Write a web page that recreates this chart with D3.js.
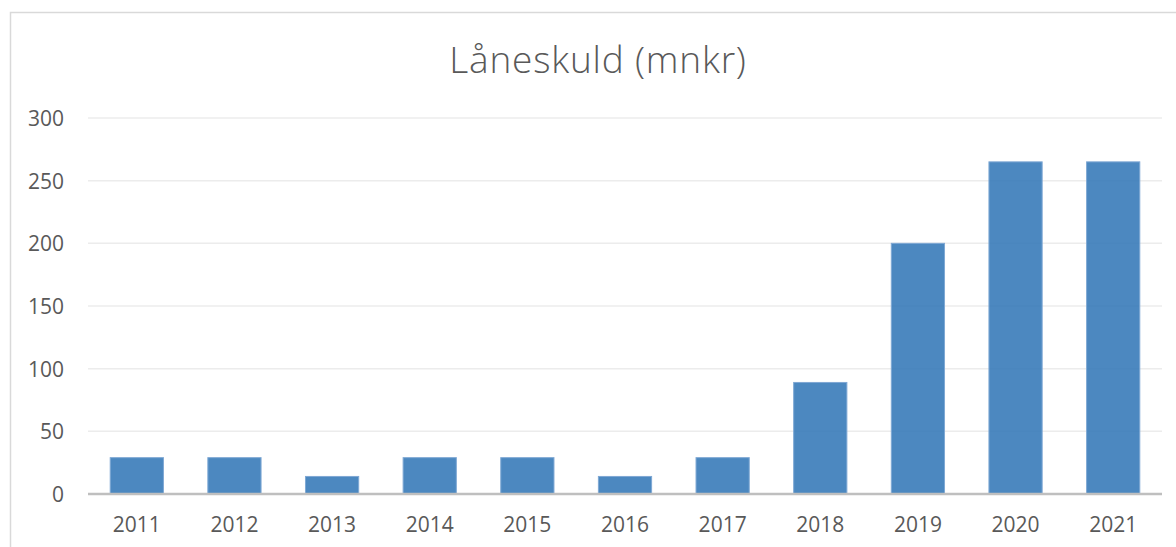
<!DOCTYPE html>
<html>
<head>
<meta charset="utf-8">
<script src="https://cdn.jsdelivr.net/npm/d3@7"></script>
<style>
html,body{margin:0;padding:0;background:#fff;}
svg{display:block;}
</style>
</head>
<body>
<svg id="chart" width="1176" height="547"></svg>
<script>
const title = "Låneskuld (mnkr)";
const years = ["2011","2012","2013","2014","2015","2016","2017","2018","2019","2020","2021"];
const values = [29, 29, 14, 29, 29, 14, 29, 89, 200, 265, 265];
const yTicks = [0, 50, 100, 150, 200, 250, 300];

const svg = d3.select("#chart");
const m = {left: 88, right: 1162, top: 118, bottom: 494};

// outer chart border
svg.append("rect").attr("x", 10.5).attr("y", 12.5).attr("width", 1200).attr("height", 600)
  .attr("fill", "none").attr("stroke", "#d9d9d9").attr("stroke-width", 1.5);

const x = d3.scaleBand().domain(years).range([m.left, m.right]).paddingInner(0.455).paddingOuter(0.2275);
const y = d3.scaleLinear().domain([0, 300]).range([m.bottom, m.top]);

// gridlines
svg.append("g").selectAll("line").data(yTicks.filter(d => d > 0)).join("line")
  .attr("x1", m.left).attr("x2", m.right)
  .attr("y1", d => y(d)).attr("y2", d => y(d))
  .attr("stroke", "#ececec").attr("stroke-width", 1.5);

// y tick labels
const yAxis = d3.axisLeft(y).tickValues(yTicks).tickSize(0).tickPadding(0);
const gy = svg.append("g").attr("transform", `translate(64,0)`).call(yAxis);
gy.select(".domain").remove();
gy.selectAll("text").attr("font-family", "'Open Sans', sans-serif").attr("font-size", 21)
  .attr("fill", "#595959").attr("dy", "0.36em");

// bars
svg.append("g").selectAll("rect").data(values).join("rect")
  .attr("x", (d, i) => x(years[i]))
  .attr("width", x.bandwidth())
  .attr("y", d => y(d))
  .attr("height", d => y(0) - y(d))
  .attr("fill", "rgb(46,117,182)").attr("fill-opacity", 0.86)
  .attr("stroke", "#7fa8d4").attr("stroke-width", 1);

// x axis
const xAxis = d3.axisBottom(x).tickSize(0).tickPadding(0);
const gx = svg.append("g").attr("transform", `translate(0,${m.bottom})`).call(xAxis);
gx.select(".domain").attr("stroke", "#bfbfbf").attr("stroke-width", 2.5)
  .attr("d", `M${m.left},0H${m.right}`);
gx.selectAll("text").attr("font-family", "'Open Sans', sans-serif").attr("font-size", 21)
  .attr("fill", "#595959").attr("dy", "0").attr("y", 38);

// title
svg.append("text").attr("x", 598).attr("y", 73).attr("text-anchor", "middle")
  .attr("font-family", "'Open Sans', sans-serif").attr("font-size", 37).attr("font-weight", 300)
  .attr("letter-spacing", "0.8px")
  .attr("fill", "#595959").text(title);
</script>
</body>
</html>
